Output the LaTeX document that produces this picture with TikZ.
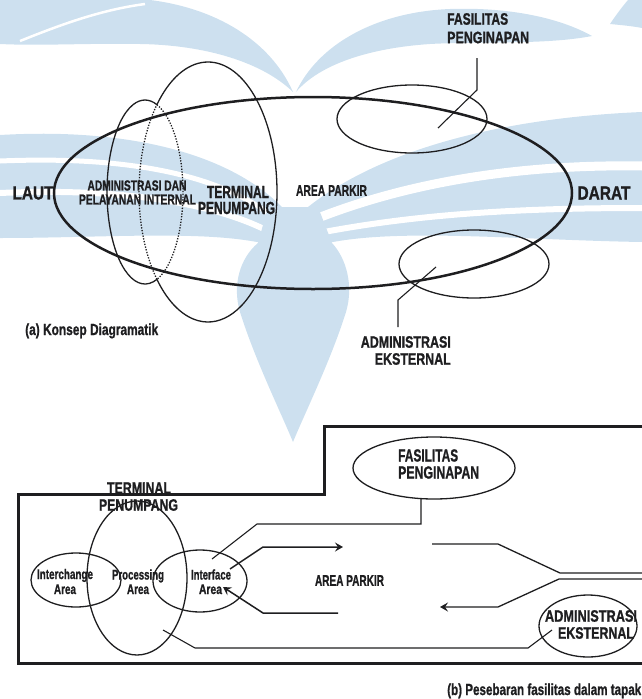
\documentclass[tikz,border=0pt]{standalone}
\usepackage{graphicx}
\usepackage{fontspec}
\setmainfont{Liberation Sans}[BoldFeatures={FakeBold=1.2}]
\usetikzlibrary{shapes.geometric,arrows.meta}
\definecolor{wm}{RGB}{205,224,239}
\definecolor{ink}{RGB}{30,30,32}
% squeeze a label to a given width, keeping its height
\newcommand\fitw[2]{\resizebox{#1pt}{\height}{#2}}

\begin{document}
\begin{tikzpicture}[x=1pt,y=-1pt,
  lbl/.style={inner sep=0pt,text=ink,font=\bfseries\fontsize{#1}{#1}\selectfont},
  ring/.style={draw=ink,line width=1.3pt,ellipse,inner sep=0pt,outer sep=0pt},
  lead/.style={draw=ink,line width=1.1pt},
  flow/.style={draw=ink,line width=1.5pt,-{Stealth[length=8pt,width=9pt,inset=3pt]}},
  hidden/.style={draw=ink,line width=1.3pt,dash pattern=on 1.3pt off 1.5pt},
]
\useasboundingbox (0,0) rectangle (642,699);

% ---------------- background emblem ----------------
% wings
\fill[wm] (0,0) -- (150,0) .. controls (215,8) and (270,40) .. (293,92)
  .. controls (262,62) and (205,45) .. (140,44) .. controls (90,43) and (40,46) .. (0,44) -- cycle;
\draw[white,line width=2.5pt] (20,41) .. controls (60,25) and (100,10) .. (145,4);
\fill[wm] (296,92) .. controls (318,45) and (375,12) .. (450,9)
  .. controls (510,7) and (560,18) .. (592,36)
  .. controls (545,45) and (485,41) .. (430,44)
  .. controls (370,48) and (320,64) .. (296,92) -- cycle;
\fill[wm] (628,0) -- (642,0) -- (642,28) .. controls (632,26) and (620,25) .. (610,24)
  .. controls (616,15) and (622,7) .. (628,0) -- cycle;
% waves
\fill[wm] (0,135) .. controls (120,128) and (225,150) .. (282,207) -- (262,243)
  .. controls (200,230) and (100,238) .. (0,238) -- cycle;
\draw[white,line width=5pt] (0,161) .. controls (120,156) and (215,172) .. (272,216);
\draw[white,line width=6pt] (0,193) .. controls (110,188) and (205,200) .. (266,230);
\fill[wm] (308,207) .. controls (380,150) and (500,118) .. (642,112) -- (642,242)
  .. controls (520,240) and (400,228) .. (328,243) -- cycle;
\draw[white,line width=9pt] (642,166) .. controls (520,164) and (410,182) .. (318,218);
\draw[white,line width=6pt] (642,208) .. controls (520,208) and (420,214) .. (324,232);
% drop
\fill[wm] (258,243) .. controls (240,258) and (232,285) .. (240,312)
  .. controls (255,360) and (282,415) .. (293,442)
  .. controls (304,415) and (331,360) .. (346,312)
  .. controls (354,285) and (346,258) .. (332,243) -- (318,207) -- (268,207) -- cycle;

% ---------------- (a) diagram concept ----------------
\node[ring,line width=2.5pt,minimum width=518,minimum height=192] (big) at (313,193) {};
\node[ring,minimum width=150,minimum height=68] (fpa) at (412,119) {};
\node[ring,minimum width=150,minimum height=68] (eaa) at (474,264) {};

% internal administration and passenger terminal, overlapping parts dotted
\draw[ink,line width=1.3pt] (145,192) ++(71.7:38 and 92)
  arc[start angle=71.7,end angle=288.3,x radius=38,y radius=92];
\draw[hidden] (145,192) ++(-71.7:38 and 92)
  arc[start angle=-71.7,end angle=71.7,x radius=38,y radius=92];
\draw[ink,line width=1.3pt] (208,192) ++(-137.8:69 and 130)
  arc[start angle=-137.8,end angle=137.8,x radius=69,y radius=130];
\draw[hidden] (208,192) ++(137.8:69 and 130)
  arc[start angle=137.8,end angle=222.2,x radius=69,y radius=130];

\node[lbl=19] (laut) at (33,193) {\fitw{41}{LAUT}};
\node[lbl=19] (darat) at (604,193) {\fitw{53}{DARAT}};
\node[lbl=14.5] (aint1) at (137,185.5) {\fitw{99}{ADMINISTRASI DAN}};
\node[lbl=14.5] (aint2) at (137.5,199.5) {\fitw{117}{PELAYANAN INTERNAL}};
\node[lbl=17.5] (ta1) at (238,192) {\fitw{62}{TERMINAL}};
\node[lbl=17.5] (ta2) at (236.5,208) {\fitw{77}{PENUMPANG}};
\node[lbl=15.5] (pa) at (331.5,190.5) {\fitw{71}{AREA PARKIR}};
\node[lbl=16.5,anchor=west] (fa1) at (447,19) {\fitw{61}{FASILITAS}};
\node[lbl=16.5,anchor=west] (fa2) at (447,37.5) {\fitw{82}{PENGINAPAN}};
\node[lbl=16.5,anchor=east] (ea1) at (451,342) {\fitw{90}{ADMINISTRASI}};
\node[lbl=16.5,anchor=east] (ea2) at (451,359) {\fitw{76}{EKSTERNAL}};
\node[lbl=16,anchor=base west] (capa) at (25,335) {\fitw{133}{(a) Konsep Diagramatik}};

\coordinate (fpa1) at (477,58);
\coordinate (fpa2) at (477,90);
\coordinate (fpa3) at (438,128);
\draw[lead] (fpa1) -- (fpa2) -- (fpa3);
\coordinate (eaa1) at (436,267);
\coordinate (eaa2) at (398,300);
\coordinate (eaa3) at (398,327);
\draw[lead] (eaa1) -- (eaa2) -- (eaa3);

% ---------------- (b) layout on site ----------------
\coordinate (ob1) at (646,426);
\coordinate (ob2) at (324,426);
\coordinate (ob3) at (324,494);
\coordinate (ob4) at (18,494);
\coordinate (ob5) at (18,663);
\coordinate (ob6) at (646,663);
\draw[ink,line width=3pt] (ob1) -- (ob2) -- (ob3) -- (ob4) -- (ob5) -- (ob6);

\node[ring,minimum width=162,minimum height=62] (fp) at (434,468) {};
\node[ring,minimum width=100,minimum height=154] (tb) at (137,578) {};
\node[ring,minimum width=90,minimum height=54] (ic) at (76,580) {};
\node[ring,minimum width=94,minimum height=62] (itf) at (200,581) {};
\node[ring,minimum width=98,minimum height=62] (eb) at (588,626) {};

\node[lbl=17.5,anchor=west] (fb1) at (398,455.5) {\fitw{60}{FASILITAS}};
\node[lbl=17.5,anchor=west] (fb2) at (398,472.5) {\fitw{81}{PENGINAPAN}};
\node[lbl=16.5] (tb1) at (139,488) {\fitw{64}{TERMINAL}};
\node[lbl=16.5] (tb2) at (138.5,505) {\fitw{79}{PENUMPANG}};
\node[lbl=14,anchor=base] (ic1) at (65,579) {\fitw{56}{Interchange}};
\node[lbl=14,anchor=base] (ic2) at (65,594) {\fitw{22}{Area}};
\node[lbl=14,anchor=base] (pr1) at (138,579.5) {\fitw{52}{Processing}};
\node[lbl=14,anchor=base] (pr2) at (138,594) {\fitw{22}{Area}};
\node[lbl=14,anchor=base] (if1) at (211,579.5) {\fitw{40}{Interface}};
\node[lbl=14,anchor=base] (if2) at (210.5,594) {\fitw{23}{Area}};
\node[lbl=15.5] (pb) at (349.5,580.5) {\fitw{69}{AREA PARKIR}};
\node[lbl=16.5] (eb1) at (591,616) {\fitw{92}{ADMINISTRASI}};
\node[lbl=16.5] (eb2) at (596,633) {\fitw{76}{EKSTERNAL}};
\node[lbl=16,anchor=base west] (capb) at (447,695) {\fitw{194}{(b) Pesebaran fasilitas dalam tapak}};

% lodging to interface
\coordinate (c1) at (421,524);
\coordinate (c2) at (257,524);
\coordinate (c3) at (212,559);
\draw[lead] (fp.south -| c1) -- (c1) -- (c2) -- (c3);
% interface out to parking
\coordinate (o0) at (230,569);
\coordinate (o1) at (263,547);
\coordinate (o2) at (343,547);
\draw[flow] (o0) -- (o1) -- (o2);
% parking back to interface
\coordinate (i0) at (338,613);
\coordinate (i1) at (263,613);
\coordinate (i2) at (223,587);
\draw[flow] (i0) -- (i1) -- (i2);
% terminal to external administration
\coordinate (t0) at (163,630);
\coordinate (t1) at (195,648);
\coordinate (t2) at (528,648);
\coordinate (t3) at (552,630);
\draw[lead] (t0) -- (t1) -- (t2) -- (t3);
% access road
\coordinate (r0) at (432,544);
\coordinate (r1) at (498,544);
\coordinate (r2) at (560,573);
\coordinate (r3) at (646,573);
\draw[lead,line width=1.3pt] (r0) -- (r1) -- (r2) -- (r3);
\coordinate (l0) at (646,579);
\coordinate (l1) at (559,579);
\coordinate (l2) at (498,607);
\coordinate (l3) at (440,607);
\draw[flow,line width=1.3pt] (l0) -- (l1) -- (l2) -- (l3);
\end{tikzpicture}
\end{document}
